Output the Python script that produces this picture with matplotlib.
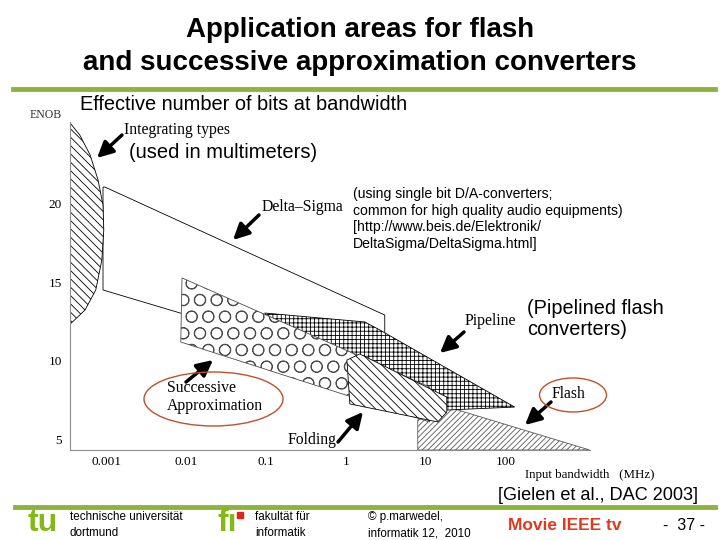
import matplotlib
matplotlib.use('Agg')
import numpy as np
import matplotlib.pyplot as plt
from matplotlib.patches import Polygon, Ellipse, Rectangle
from matplotlib.lines import Line2D
from matplotlib.ticker import NullLocator

plt.rcParams['hatch.linewidth'] = 0.6

# converter regions: input bandwidth (MHz) and effective number of bits
integ_bw = [3.4e-4, 4.6e-4, 6.2e-4, 7.8e-4, 9.0e-4, 9.2e-4, 8.7e-4, 7.3e-4, 5.35e-4, 3.4e-4]
integ_enob = [25.23, 24.40, 23.13, 21.53, 19.93, 18.34, 16.42, 14.51, 13.23, 12.28]

ds_bw = [9.0e-4, 9.0e-4, 9.5e-4, 3.07, 3.07]
ds_enob = [14.51, 21.08, 21.08, 12.91, 9.15]

sa_bw = [8.8e-3, 11.2, 11.2, 8.5e-3]
sa_enob = [15.28, 8.32, 6.09, 11.19]

pipe_bw = [0.096, 1.73, 2.66, 130.6, 18.4, 0.264]
pipe_enob = [13.04, 12.47, 11.96, 7.04, 6.85, 8.77]

fold_bw = [1.03, 1.49, 18.4, 18.4, 14.2, 1.12]
fold_enob = [10.04, 10.43, 7.68, 6.72, 6.09, 7.24]

flash_bw = [7.96, 7.96, 17.3, 1140]
flash_enob = [4.3, 6.21, 7.11, 4.3]

xticks = [0.001, 0.01, 0.1, 1, 10, 100]
xticklabels = ['0.001', '0.01', '0.1', '1', '10', '100']
yticks = [5, 10, 15, 20]

W, H = 720, 540
def fp(x, y):
    # top-left pixel -> figure fraction
    return (x / W, 1 - y / H)

serif = 'Liberation Serif'
sans = 'Liberation Sans'
green = '#8cb43c'

fig = plt.figure(figsize=(7.2, 5.4), dpi=100)
ax = fig.add_axes([70 / W, 90 / H, 520 / W, 328 / H])
ax.set_xscale('log')
ax.set_xlim(3.47e-4, 1150)
ax.set_ylim(4.3, 25.23)
ax.patch.set_alpha(0)

regions = [
    (ds_bw, ds_enob, '', 'black', 1),
    (integ_bw, integ_enob, '\\\\\\\\', 'black', 2),
    (flash_bw, flash_enob, '//////', '0.35', 2),
    (pipe_bw, pipe_enob, '++++', 'black', 3),
    (sa_bw, sa_enob, 'O', '0.3', 4),
    (fold_bw, fold_enob, '\\\\\\\\', 'black', 5),
]
for bw, enob, hatch, ec, z in regions:
    ax.add_patch(Polygon(np.column_stack([bw, enob]), closed=True, facecolor='white',
                         edgecolor=ec, hatch=hatch, lw=0.6, zorder=z))

ax.set_xticks(xticks)
ax.set_xticklabels(xticklabels)
ax.xaxis.set_minor_locator(NullLocator())
ax.set_yticks(yticks)
ax.tick_params(length=0, labelsize=9.5)
ax.tick_params(axis='x', pad=4)
ax.tick_params(axis='y', pad=6)
for lab in ax.get_xticklabels() + ax.get_yticklabels():
    lab.set_fontfamily(serif)
for s in ['top', 'right']:
    ax.spines[s].set_visible(False)
for s in ['left', 'bottom']:
    ax.spines[s].set_color('0.55')
    ax.spines[s].set_linewidth(0.8)

# serif labels from the original figure
fig.text(*fp(30, 115), 'ENOB', fontfamily=serif, fontsize=8.5, va='center', color='0.2')
fig.text(*fp(525, 475), 'Input bandwidth   (MHz)', fontfamily=serif, fontsize=9.3, va='center')

notes = [
    ('Integrating types', (124, 130), (122, 135), (97, 158)),
    ('Delta\u2013Sigma', (262, 207), (259, 215), (233, 240)),
    ('Pipeline', (465, 321), (464, 332), (440, 353)),
    ('Successive\nApproximation', (167, 397), (186, 382), (213, 360)),
    ('Folding', (288, 440), (338, 442), (363, 412)),
    ('Flash', (552, 394), (551, 402), (525, 425)),
]
for txt, tpos, tail, head in notes:
    fig.text(*fp(*tpos), txt, fontfamily=serif, fontsize=11.3, va='center',
             linespacing=1.2)
    ax.annotate('', xy=fp(*head), xycoords='figure fraction', xytext=fp(*tail),
                textcoords='figure fraction',
                arrowprops=dict(arrowstyle='-|>', color='black', lw=2.5,
                                mutation_scale=24, shrinkA=0, shrinkB=0),
                annotation_clip=False, zorder=10)

fig.add_artist(Ellipse(fp(213.5, 399), 139 / W, 54 / H, transform=fig.transFigure,
                       fill=False, edgecolor='#c0502a', lw=1.0))
fig.add_artist(Ellipse(fp(573, 395), 67 / W, 34 / H, transform=fig.transFigure,
                       fill=False, edgecolor='#c0502a', lw=1.0))

# slide text
fig.text(*fp(360, 30), 'Application areas for flash', fontfamily=sans, fontsize=20,
         fontweight='bold', ha='center', va='center')
fig.text(*fp(360, 63), 'and successive approximation converters', fontfamily=sans,
         fontsize=20, fontweight='bold', ha='center', va='center')
fig.add_artist(Line2D([13 / W, 715 / W], [1 - 89 / H] * 2, color=green, lw=3.5))
fig.text(*fp(80, 105), 'Effective number of bits at bandwidth', fontfamily=sans,
         fontsize=14.4, va='center')
fig.text(*fp(129, 153), '(used in multimeters)', fontfamily=sans, fontsize=14.5, va='center')
fig.text(*fp(353, 219), '(using single bit D/A-converters;\ncommon for high quality audio equipments)\n'
         '[http://www.beis.de/Elektronik/\nDeltaSigma/DeltaSigma.html]',
         fontfamily=sans, fontsize=10.1, va='center', linespacing=1.25)
fig.text(*fp(527, 319), '(Pipelined flash\nconverters)', fontfamily=sans, fontsize=14.3,
         va='center', linespacing=1.1)
fig.text(*fp(698, 496), '[Gielen et al., DAC 2003]', fontfamily=sans, fontsize=13.1,
         ha='right', va='center')

# footer
fig.add_artist(Line2D([15 / W, 715 / W], [1 - 507 / H] * 2, color=green, lw=3.5))
fig.text(*fp(28, 523), 'tu', fontfamily=sans, fontweight='bold', fontsize=23,
         color='#84b817', va='center')
fig.text(*fp(70, 525), 'technische universität\ndortmund', fontfamily=sans, fontsize=8.4,
         va='center', linespacing=1.45)
fig.text(*fp(217, 523), 'fı', fontfamily=sans, fontweight='bold', fontsize=23,
         color='#84b817', va='center')
fig.add_artist(Rectangle(fp(237, 518), 6 / W, 6 / H, transform=fig.transFigure,
                         color='#e2231a'))
fig.text(*fp(255, 525), 'fakultät für\ninformatik', fontfamily=sans, fontsize=8.4,
         va='center', linespacing=1.45)
fig.text(*fp(368, 525), '\u00a9 p.marwedel,\ninformatik 12,  2010', fontfamily=sans,
         fontsize=8.4, va='center', linespacing=1.45)
fig.text(*fp(508, 526), 'Movie IEEE tv', fontfamily=sans, fontsize=12.5,
         fontweight='bold', color='#e03a1e', va='center')
fig.text(*fp(663, 526), '-  37 -', fontfamily=sans, fontsize=11.5, va='center')

fig.savefig('out.png', dpi=100)
